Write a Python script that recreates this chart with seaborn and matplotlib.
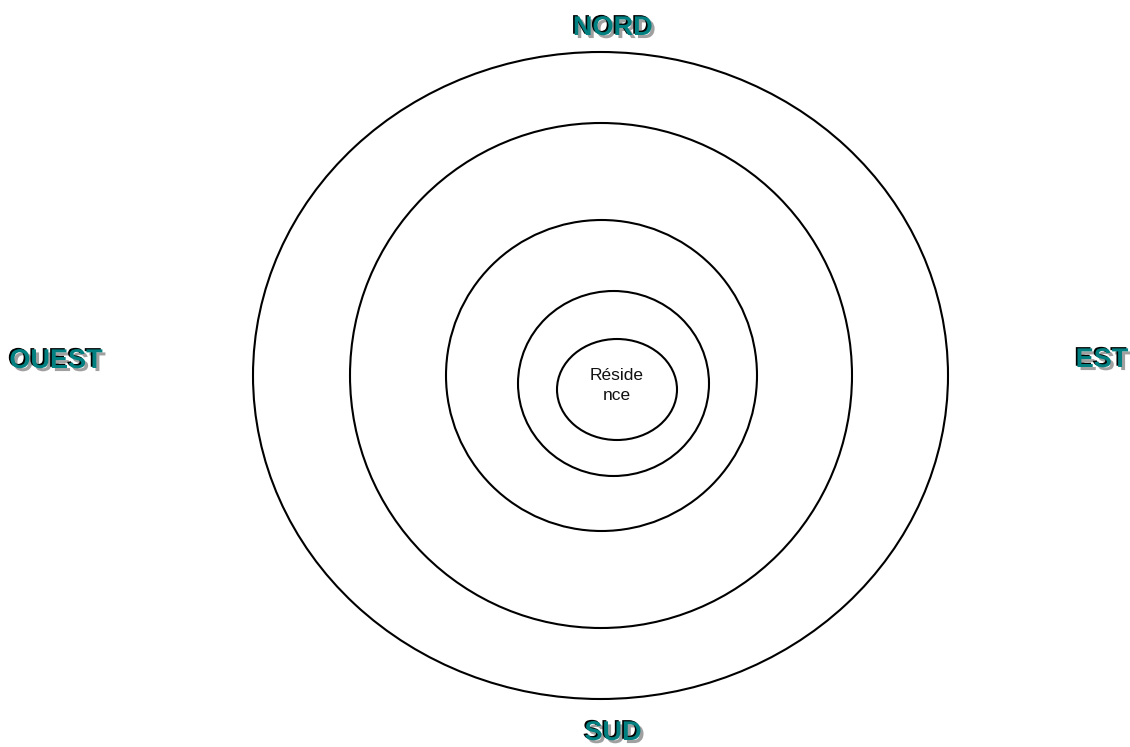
import matplotlib
matplotlib.use("Agg")
import matplotlib.pyplot as plt
import matplotlib.patheffects as pe
from matplotlib.patches import Ellipse
import seaborn as sns

# ring sizes in pixels (outer -> inner)
ring_names = ["anneau 4", "anneau 3", "anneau 2", "anneau 1", "residence"]
ring_cx = [600.5, 601.0, 601.5, 613.5, 617.0]
ring_cy = [375.5, 375.5, 375.5, 383.5, 389.5]
ring_w = [695, 502, 311, 191, 120]
ring_h = [647, 505, 311, 185, 101]

# compass labels (text, x centre, baseline y)
dir_labels = ["NORD", "SUD", "OUEST", "EST"]
dir_x = [613, 613, 56, 1102]
dir_y = [35, 740, 368, 367]

center_label = "Réside\nnce"

sns.set_theme(style="white")
plt.rcParams['font.family'] = ['Liberation Sans', 'DejaVu Sans']

fig = plt.figure(figsize=(11.3, 7.47), dpi=100)
ax = fig.add_axes([0, 0, 1, 1])
ax.set_xlim(0, 1130)
ax.set_ylim(747, 0)
ax.axis("off")

# --- concentric rings ---
for cx, cy, w, h in zip(ring_cx, ring_cy, ring_w, ring_h):
    ax.add_patch(Ellipse((cx, cy), w, h, fill=False, edgecolor="black", linewidth=1.5))

# --- centre text, sits a little above the ring centre ---
ax.text(ring_cx[-1], ring_cy[-1] - 4, center_label, ha="center", va="center",
        multialignment="center", fontsize=12.5, linespacing=1.45, color="#111111")

# --- compass labels with shadow / outline effect ---
effects = [
    pe.SimplePatchShadow(offset=(2.2, -2.2), shadow_rgbFace="#a0a0a0", alpha=1.0),
    pe.SimplePatchShadow(offset=(-1.2, 0.9), shadow_rgbFace="black", alpha=1.0),
    pe.Normal(),
]
for label, x, y in zip(dir_labels, dir_x, dir_y):
    ax.text(x, y, label, ha="center", va="baseline", fontsize=19.5,
            fontweight="bold", color="#008080", path_effects=effects)

fig.savefig("out.png", dpi=100)
